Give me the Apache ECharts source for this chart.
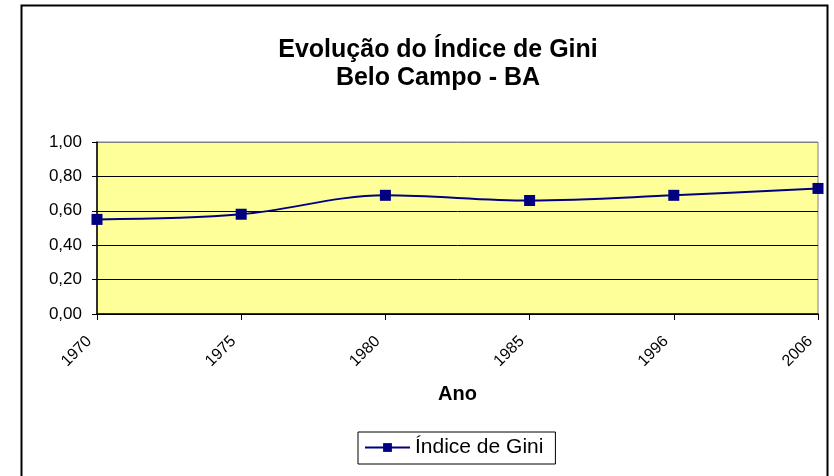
<!DOCTYPE html>
<html><head><meta charset="utf-8">
<script src="https://cdn.jsdelivr.net/npm/echarts@6/dist/echarts.min.js"></script>
<style>html,body{margin:0;padding:0;background:#fff;}#c{width:834px;height:476px;}</style>
</head><body><div id="c"></div>
<script>
const categories = ['1970','1975','1980','1985','1996','2006'];
const giniValues = [0.55, 0.58, 0.69, 0.66, 0.69, 0.73];
const yTicks = [0, 0.2, 0.4, 0.6, 0.8, 1.0];
const titleLines = ['Evolução do Índice de Gini', 'Belo Campo - BA'];
const seriesName = 'Índice de Gini';
const xAxisName = 'Ano';

const chart = echarts.init(document.getElementById('c'));
const font = '"Liberation Sans", Arial, sans-serif';
chart.setOption({
  backgroundColor: '#ffffff',
  animation: false,
  title: {
    text: titleLines.join('\n'),
    left: 433, top: 31, textAlign: 'center',
    textStyle: { fontFamily: font, fontSize: 25, fontWeight: 'bold', color: '#000', lineHeight: 28 }
  },
  graphic: [{
    type: 'rect', shape: { x: 21.5, y: 5.5, width: 806, height: 500 },
    style: { fill: 'none', stroke: '#000', lineWidth: 2 }, silent: true, z: -1
  }],
  legend: {
    data: [seriesName],
    left: 358, top: 432,
    itemWidth: 45, itemHeight: 11, itemGap: 0,
    padding: [5, 12, 6, 6],
    borderColor: '#000', borderWidth: 1,
    textStyle: { fontFamily: font, fontSize: 21, color: '#000' }
  },
  grid: { left: 97, right: 16, top: 142, bottom: 162, show: true, backgroundColor: '#FFFF99', borderColor: '#808080', borderWidth: 1 },
  xAxis: {
    type: 'category', data: categories, boundaryGap: false,
    name: xAxisName, nameLocation: 'middle', nameGap: 70,
    nameTextStyle: { fontFamily: font, fontSize: 20, fontWeight: 'bold', color: '#000' },
    axisLine: { lineStyle: { color: '#000', width: 1.5 } },
    axisTick: { show: true, length: 6, lineStyle: { color: '#000' } },
    axisLabel: { rotate: 45, fontFamily: font, fontSize: 16, color: '#000', margin: 17, padding: [0, 11, 0, 0] }
  },
  yAxis: {
    type: 'value', min: 0, max: 1, interval: 0.2,
    axisLine: { show: true, lineStyle: { color: '#000', width: 1.5 } },
    axisTick: { show: true, length: 5, lineStyle: { color: '#000' } },
    splitLine: { show: true, lineStyle: { color: ['#000', '#000', '#000', '#000', '#000', '#808080'], width: 1 } },
    axisLabel: { fontFamily: font, fontSize: 17, color: '#000', margin: 15,
      formatter: v => v.toFixed(2).replace('.', ',') }
  },
  series: [{
    name: seriesName, type: 'line', data: giniValues, smooth: 0.35,
    symbol: 'rect', symbolSize: 11,
    lineStyle: { color: '#000080', width: 2 },
    itemStyle: { color: '#000080' }
  }]
});
</script></body></html>
